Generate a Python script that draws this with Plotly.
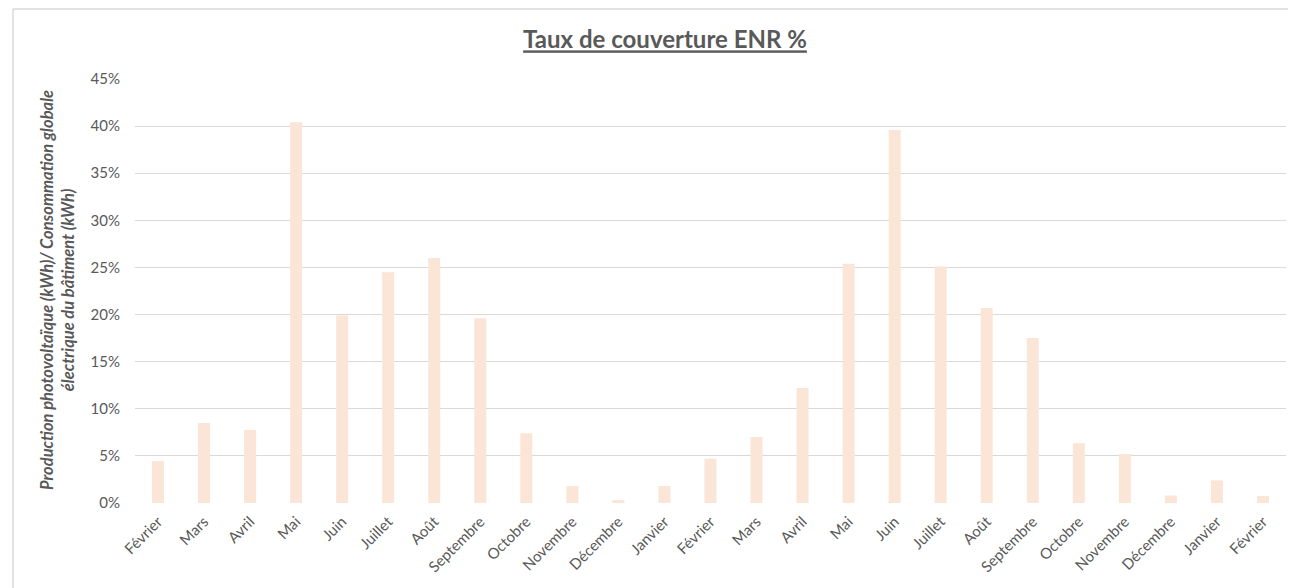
import plotly.graph_objects as go

months = ["Février", "Mars", "Avril", "Mai", "Juin", "Juillet", "Août", "Septembre",
          "Octobre", "Novembre", "Décembre", "Janvier", "Février", "Mars", "Avril",
          "Mai", "Juin", "Juillet", "Août", "Septembre", "Octobre", "Novembre",
          "Décembre", "Janvier", "Février"]
taux = [4.45, 8.5, 7.75, 40.4, 19.9, 24.5, 26.0, 19.6, 7.4, 1.8, 0.3, 1.8, 4.7, 7.0,
        12.2, 25.4, 39.6, 25.1, 20.7, 17.5, 6.35, 5.2, 0.8, 2.4, 0.75]
taux = [v / 100 for v in taux]
y_ticks = [0, 0.05, 0.10, 0.15, 0.20, 0.25, 0.30, 0.35, 0.40, 0.45]

idx = list(range(len(months)))
font_family = "Lato, 'Open Sans', sans-serif"
grey = "#595959"

# page offset (body margin) of 8px
OFF = 8
W, H = 1296 - OFF, 588 - OFF
PL, PT, PW, PH = 135 - OFF, 79 - OFF, 1151, 424

def px_x(sx):
    return (sx - OFF - PL) / PW

def px_y(sy):
    return (PT + PH - (sy - OFF)) / PH

fig = go.Figure(go.Bar(x=idx, y=taux, marker=dict(color="#FBE5D6", line=dict(width=0)),
                       width=0.26))

fig.update_layout(
    width=W, height=H,
    margin=dict(l=PL, r=W - PL - PW, t=PT, b=H - PT - PH),
    paper_bgcolor="white", plot_bgcolor="white",
    showlegend=False,
    font=dict(family=font_family, color=grey, size=15),
    title=dict(text="<b><u>Taux de couverture ENR %</u></b>", x=(665 - OFF) / W, xanchor="center",
               y=1 - (40 - OFF) / H, yanchor="middle", font=dict(size=24, color=grey)),
    xaxis=dict(tickmode="array", tickvals=idx, ticktext=months, tickangle=-45,
               range=[-0.5, len(months) - 0.5], showgrid=False, zeroline=False,
               showline=False, ticks="", ticklabelstandoff=6,
               tickfont=dict(size=15, color=grey)),
    yaxis=dict(range=[0, 0.45], tickvals=y_ticks, tickformat=".0%", showgrid=True,
               gridcolor="#D9D9D9", gridwidth=1, zeroline=False, showline=False,
               ticks="", ticklabelstandoff=14, tickfont=dict(size=15, color=grey)),
    annotations=[dict(text="<b><i>Production photovoltaïque (kWh)/ Consommation globale<br>électrique du bâtiment (kWh)</i></b>",
                      xref="paper", yref="paper", x=px_x(57), y=px_y(290),
                      textangle=-90, showarrow=False, xanchor="center", yanchor="middle",
                      font=dict(size=16.5, color=grey))],
    shapes=[
        dict(type="line", xref="paper", yref="paper",
             x0=px_x(13), x1=px_x(13), y0=px_y(600), y1=px_y(9),
             line=dict(color="#D9D9D9", width=1.5), layer="below"),
        dict(type="line", xref="paper", yref="paper",
             x0=px_x(13), x1=px_x(1310), y0=px_y(9), y1=px_y(9),
             line=dict(color="#D9D9D9", width=1.5), layer="below"),
    ],
)

fig.write_html("out.html")
